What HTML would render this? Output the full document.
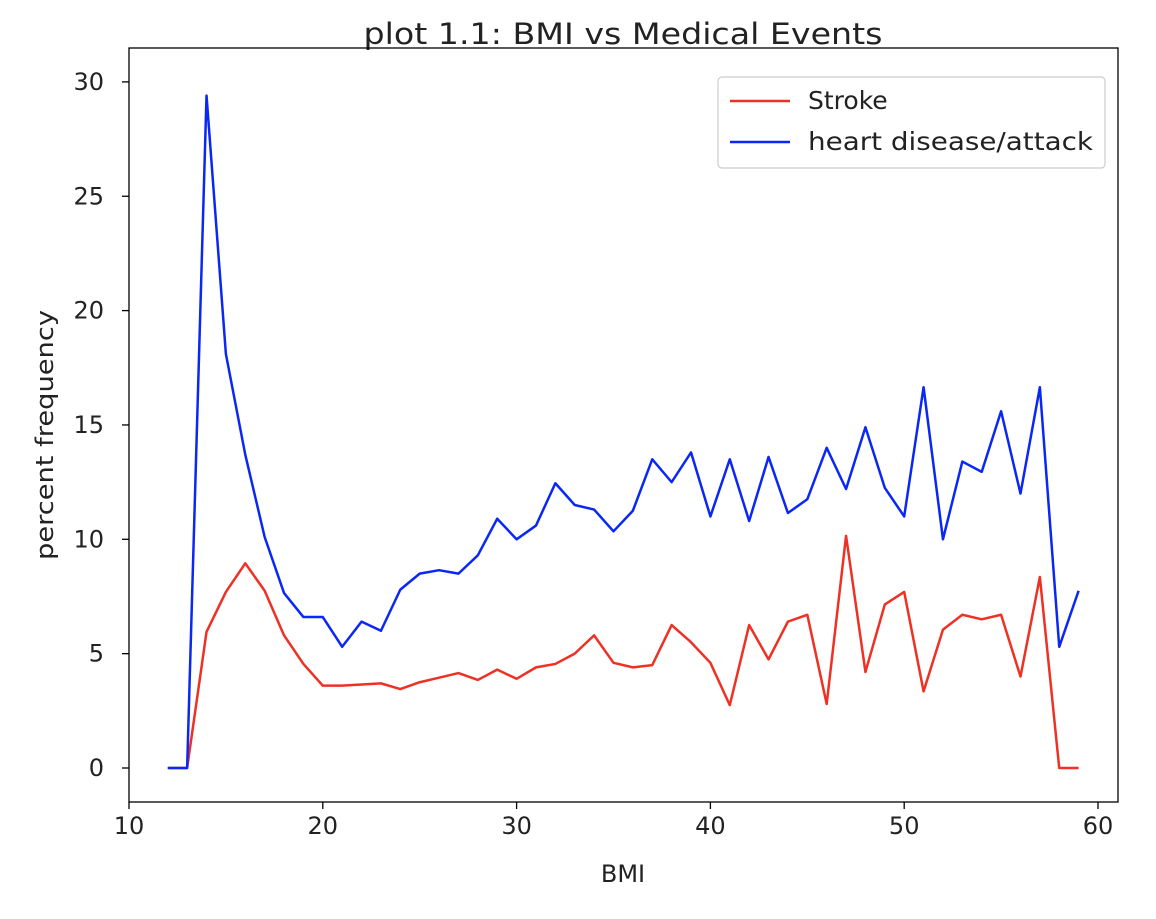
<!DOCTYPE html>
<html><head><meta charset="utf-8"><style>
body{margin:0;background:#fff;}
svg{font-family:"DejaVu Sans","Liberation Sans",sans-serif;}
</style></head><body>
<svg id="chart" width="1156" height="914" viewBox="0 0 1156 914" xmlns="http://www.w3.org/2000/svg">
<text x="623" y="44" font-size="29" text-anchor="middle" fill="#222" textLength="519" lengthAdjust="spacingAndGlyphs">plot 1.1: BMI vs Medical Events</text>
<rect x="129" y="48" width="989" height="754" fill="none" stroke="#000" stroke-width="1.3"/>
<g id="xt"></g><g id="yt"></g><g id="lines"></g>
<text x="623" y="882" font-size="24" text-anchor="middle" fill="#222">BMI</text>
<text transform="translate(53,435) rotate(-90)" font-size="24" text-anchor="middle" fill="#222" textLength="250" lengthAdjust="spacingAndGlyphs">percent frequency</text>
<g>
<rect x="718" y="77" width="387" height="91" rx="4" fill="#fff" stroke="#ccc" stroke-width="1.2"/>
<line x1="730" y1="101" x2="790" y2="101" stroke="#ee3124" stroke-width="2.5"/>
<text x="808" y="109" font-size="25" fill="#222">Stroke</text>
<line x1="730" y1="142" x2="790" y2="142" stroke="#0a27f5" stroke-width="2.5"/>
<text x="808" y="150" font-size="25" fill="#222" textLength="285" lengthAdjust="spacingAndGlyphs">heart disease/attack</text>
</g>
</svg>
<script>
const bmi=[12,13,14,15,16,17,18,19,20,21,22,23,24,25,26,27,28,29,30,31,32,33,34,35,36,37,38,39,40,41,42,43,44,45,46,47,48,49,50,51,52,53,54,55,56,57,58,59];
const heart=[0,0,29.4,18.1,13.7,10.1,7.65,6.6,6.6,5.3,6.4,6.0,7.8,8.5,8.65,8.5,9.3,10.9,10.0,10.6,12.45,11.5,11.3,10.35,11.25,13.5,12.5,13.8,11.0,13.5,10.8,13.6,11.15,11.75,14.0,12.2,14.9,12.25,11.0,16.65,10.0,13.4,12.95,15.6,12.0,16.65,5.3,7.75];
const stroke=[0,0,5.95,7.7,8.95,7.75,5.8,4.55,3.6,3.6,3.65,3.7,3.45,3.75,3.95,4.15,3.85,4.3,3.9,4.4,4.55,5.0,5.8,4.6,4.4,4.5,6.25,5.5,4.6,2.75,6.25,4.75,6.4,6.7,2.8,10.15,4.2,7.15,7.7,3.35,6.05,6.7,6.5,6.7,4.0,8.35,0,0];
const xTicks=[10,20,30,40,50,60];
const yTicks=[0,5,10,15,20,25,30];
const NS="http://www.w3.org/2000/svg";
const X=v=>129+(v-10)*19.38;
const Y=v=>768-v*22.87;
const xt=document.getElementById('xt'),yt=document.getElementById('yt'),lg=document.getElementById('lines');
function mk(t,a,p){const e=document.createElementNS(NS,t);for(const k in a)e.setAttribute(k,a[k]);p.appendChild(e);return e;}
xTicks.forEach(v=>{
 const l=mk('line',{x1:X(v),x2:X(v),y1:802,y2:809,stroke:'#000','stroke-width':1.3},xt);
 
 
 const t=mk('text',{x:X(v),y:834,'font-size':24,'text-anchor':'middle',fill:'#222'},xt);t.textContent=v;
 
 
});
yTicks.forEach(v=>{
 const l=mk('line',{x1:122,x2:129,y1:Y(v),y2:Y(v),stroke:'#000','stroke-width':1.3},yt);
 
 
 const t=mk('text',{x:104,y:Y(v)+8,'font-size':24,'text-anchor':'end',fill:'#222'},yt);t.textContent=v;
 
 
});
function series(vals,col,name){
 const p=mk('polyline',{points:bmi.map((b,i)=>X(b)+','+Y(vals[i])).join(' '),fill:'none',stroke:col,'stroke-width':2.5,'stroke-linejoin':'round'},lg);
 
 
}
series(stroke,'#ee3124','stroke-line');
series(heart,'#0a27f5','heart-disease-line');
</script>
</body></html>
